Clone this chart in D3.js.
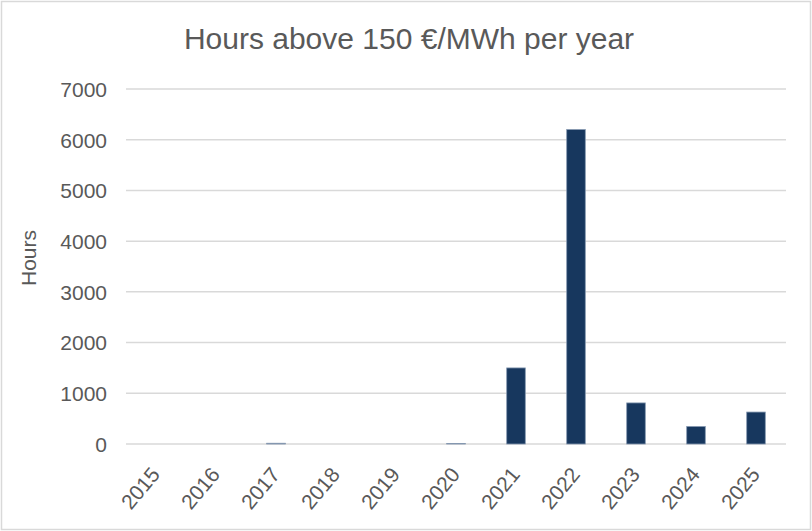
<!DOCTYPE html>
<html>
<head>
<meta charset="utf-8">
<script src="https://cdn.jsdelivr.net/npm/d3@7"></script>
<style>
  body { margin: 0; background: #fff; }
  text { font-family: "Liberation Sans", Arial, sans-serif; fill: #595959; }
</style>
</head>
<body>
<div class="chart"></div>
<script>
var years = ["2015", "2016", "2017", "2018", "2019", "2020", "2021", "2022", "2023", "2024", "2025"];
var hours = [0, 0, 15, 0, 0, 10, 1500, 6200, 810, 345, 630];
var yTicks = [0, 1000, 2000, 3000, 4000, 5000, 6000, 7000];

var width = 812, height = 531;
var margin = {top: 89, right: 26, bottom: 87, left: 126};

var svg = d3.select(".chart").append("svg")
            .attr("width", width)
            .attr("height", height);

// chart border
svg.append("rect")
   .attr("x", 1.5).attr("y", 1.5)
   .attr("width", width - 3).attr("height", height - 3)
   .attr("fill", "#fff")
   .attr("stroke", "#d9d9d9")
   .attr("stroke-width", 1.5);

var x = d3.scaleBand()
          .domain(years)
          .range([margin.left, width - margin.right])
          .paddingInner(0.69)
          .paddingOuter(0.345);

var y = d3.scaleLinear()
          .domain([0, 7000])
          .range([height - margin.bottom, margin.top]);

// gridlines
svg.append("g")
   .selectAll("line")
   .data(yTicks)
   .join("line")
   .attr("x1", margin.left)
   .attr("x2", width - margin.right)
   .attr("y1", function(d) { return y(d); })
   .attr("y2", function(d) { return y(d); })
   .attr("stroke", "#d9d9d9")
   .attr("stroke-width", 1.5);

// y axis labels
var yAxis = svg.append("g")
   .attr("transform", "translate(" + (margin.left - 19) + ",0)")
   .call(d3.axisLeft(y).tickValues(yTicks).tickFormat(d3.format("d")).tickSize(0).tickPadding(0));
yAxis.select(".domain").remove();
yAxis.selectAll("text")
     .style("font-size", "21px")
     .style("font-family", "Liberation Sans, Arial, sans-serif")
     .attr("fill", "#595959")
     .attr("dy", "0.35em");

// bars
svg.append("g")
   .selectAll("rect")
   .data(hours)
   .join("rect")
   .attr("x", function(d, i) { return x(years[i]); })
   .attr("y", function(d) { return y(d); })
   .attr("width", x.bandwidth())
   .attr("height", function(d) { return y(0) - y(d); })
   .attr("fill", "#17375e")
   .attr("stroke", "#8497b0")
   .attr("stroke-width", 0.8)
   .attr("stroke-opacity", function(d) { return d > 0 ? 1 : 0; });

// x labels, rotated
svg.append("g")
   .selectAll("text")
   .data(years)
   .join("text")
   .attr("transform", function(d) {
     return "translate(" + (x(d) + x.bandwidth() / 2 + 5) + "," + 475 + ") rotate(-50)";
   })
   .attr("text-anchor", "end")
   .style("font-size", "21px")
   .text(function(d) { return d; });

// title
svg.append("text")
   .attr("x", 409)
   .attr("y", 49)
   .attr("text-anchor", "middle")
   .style("font-size", "30px")
   .text("Hours above 150 €/MWh per year");

// y axis title
svg.append("text")
   .attr("transform", "translate(36,258) rotate(-90)")
   .attr("text-anchor", "middle")
   .style("font-size", "21px")
   .text("Hours");
</script>
</body>
</html>
